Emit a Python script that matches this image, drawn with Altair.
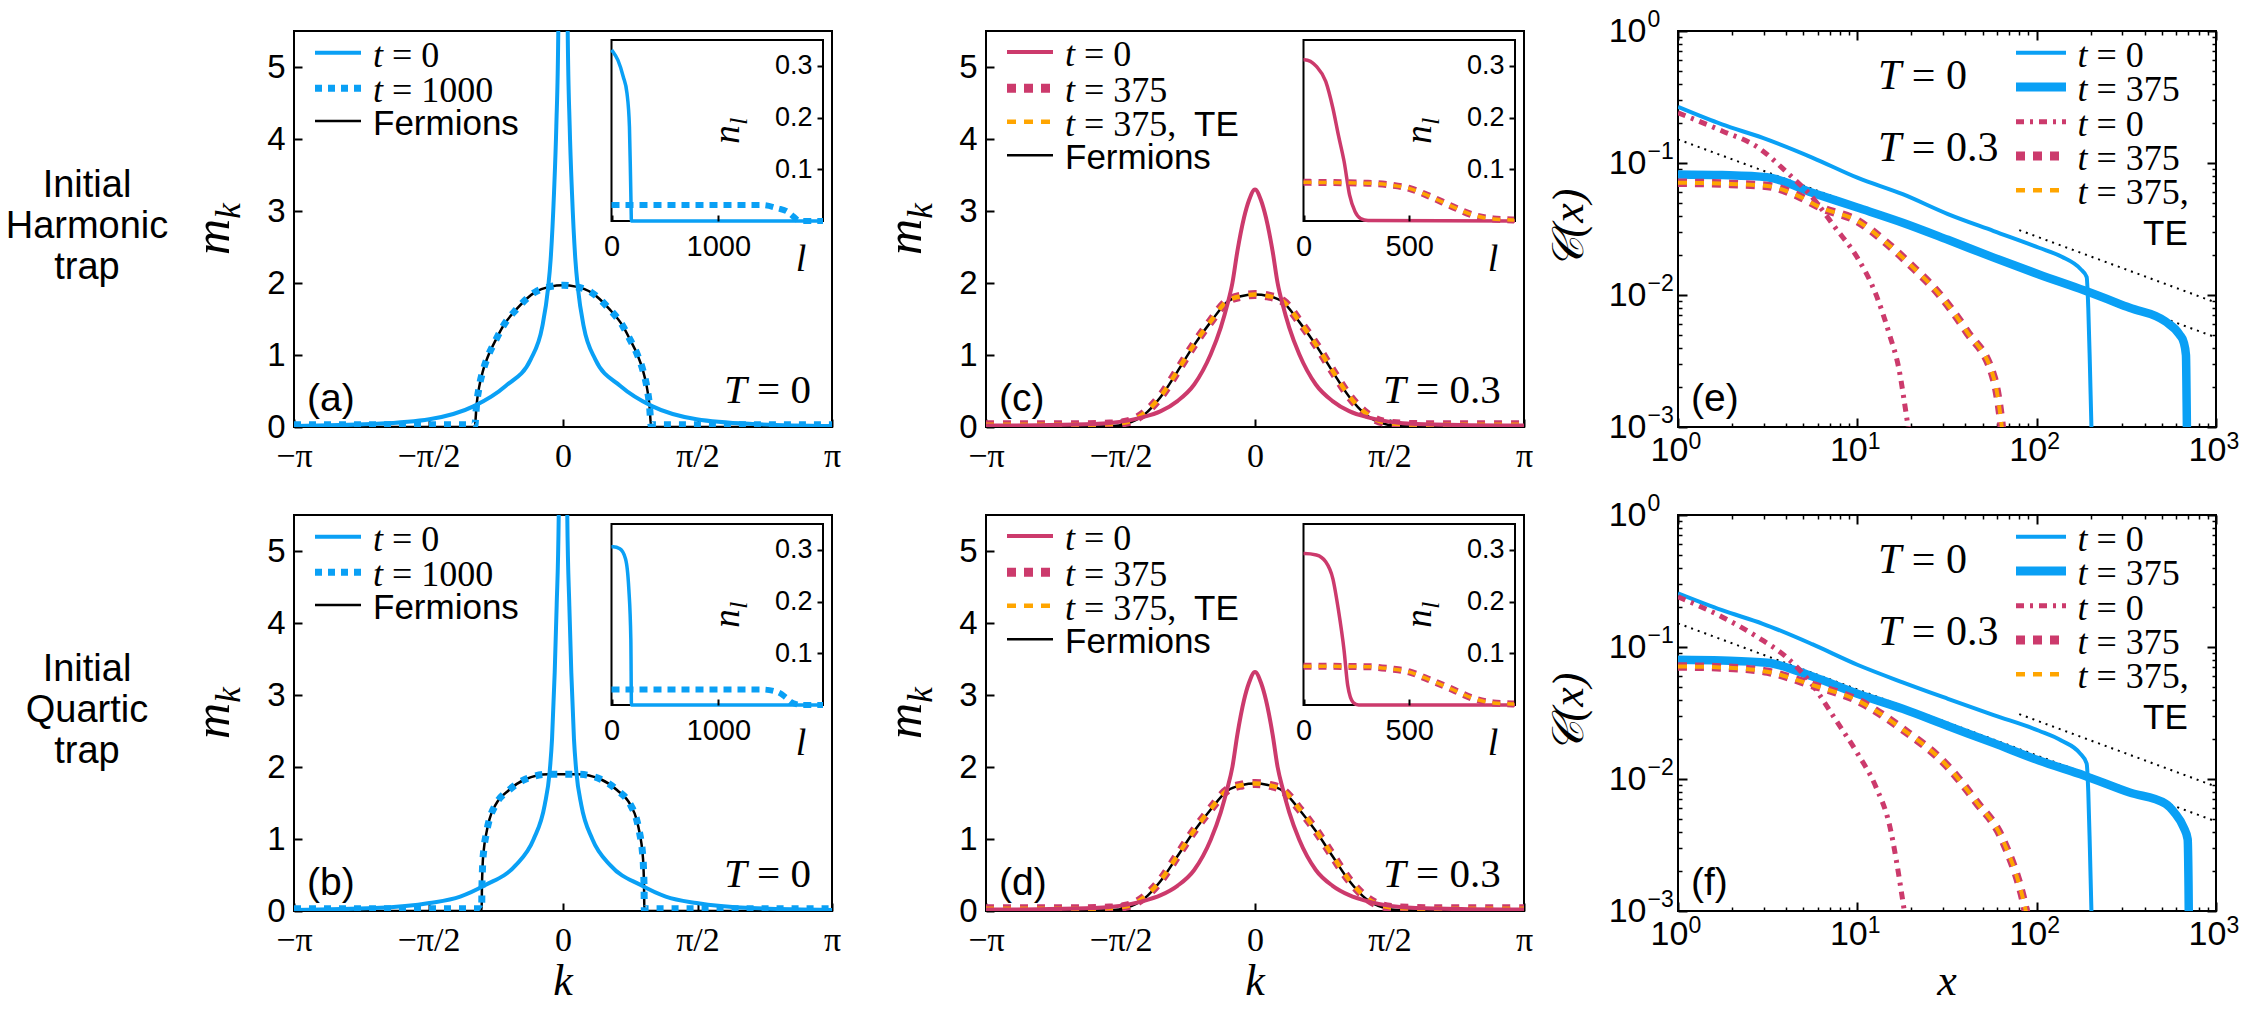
import math

import altair as alt
import pandas as pd

PI = math.pi

# ------------------------------------------------------------------
# Momentum distributions m_k, panels (a)-(d)
# ------------------------------------------------------------------
# (a) initial harmonic trap, T = 0
K_A_T0 = [-3.1416, -2.24, -1.56, -1.04, -0.67, -0.377, -0.241, -0.175, -0.144, -0.105, -0.078, -0.055, 0.0,
          0.055, 0.078, 0.105, 0.144, 0.175, 0.241, 0.377, 0.67, 1.04, 1.56, 2.24, 3.1416]
M_A_T0 = [0.014, 0.04, 0.107, 0.29, 0.57, 0.94, 1.40, 1.92, 2.33, 3.25, 4.18, 5.5, 30.0,
          5.5, 4.18, 3.25, 2.33, 1.92, 1.40, 0.94, 0.57, 0.29, 0.107, 0.04, 0.014]
K_A_T1000 = [-3.1416, -1.6, -1.05, -1.03, -1.01, -0.98, -0.93, -0.87, -0.78, -0.70, -0.54, -0.33, -0.15, 0.0,
             0.15, 0.33, 0.54, 0.70, 0.78, 0.87, 0.93, 0.98, 1.01, 1.03, 1.05, 1.6, 3.1416]
M_A_T1000 = [0.03, 0.03, 0.03, 0.02, 0.30, 0.55, 0.80, 1.00, 1.22, 1.40, 1.64, 1.87, 1.95, 1.97,
             1.95, 1.87, 1.64, 1.40, 1.22, 1.00, 0.80, 0.55, 0.30, 0.02, 0.03, 0.03, 0.03]
K_A_FERM = [-3.1416, -1.03, -1.01, -0.98, -0.93, -0.87, -0.78, -0.70, -0.54, -0.33, -0.15, 0.0,
            0.15, 0.33, 0.54, 0.70, 0.78, 0.87, 0.93, 0.98, 1.01, 1.03, 3.1416]
M_A_FERM = [0.0, 0.0, 0.30, 0.55, 0.80, 1.00, 1.22, 1.40, 1.64, 1.87, 1.95, 1.97,
            1.95, 1.87, 1.64, 1.40, 1.22, 1.00, 0.80, 0.55, 0.30, 0.0, 0.0]

# (b) initial quartic trap, T = 0
K_B_T0 = [-3.1416, -2.2, -1.56, -1.2, -0.907, -0.557, -0.342, -0.214, -0.156, -0.128, -0.097, -0.074, -0.05, 0.0,
          0.05, 0.074, 0.097, 0.128, 0.156, 0.214, 0.342, 0.557, 0.907, 1.2, 1.56, 2.2, 3.1416]
M_B_T0 = [0.015, 0.04, 0.11, 0.2, 0.36, 0.63, 1.0, 1.47, 1.93, 2.39, 3.31, 4.24, 5.49, 30.0,
          5.49, 4.24, 3.31, 2.39, 1.93, 1.47, 1.0, 0.63, 0.36, 0.2, 0.11, 0.04, 0.015]
K_B_T1000 = [-3.1416, -1.3, -0.96, -0.95, -0.947, -0.94, -0.925, -0.90, -0.86, -0.79, -0.63, -0.44, -0.17, 0.0,
             0.17, 0.44, 0.63, 0.79, 0.86, 0.90, 0.925, 0.94, 0.947, 0.95, 0.96, 1.3, 3.1416]
M_B_T1000 = [0.03, 0.03, 0.03, 0.02, 0.30, 0.60, 0.85, 1.05, 1.27, 1.47, 1.68, 1.83, 1.90, 1.90,
             1.90, 1.83, 1.68, 1.47, 1.27, 1.05, 0.85, 0.60, 0.30, 0.02, 0.03, 0.03, 0.03]
K_B_FERM = [-3.1416, -0.95, -0.947, -0.94, -0.925, -0.90, -0.86, -0.79, -0.63, -0.44, -0.17, 0.0,
            0.17, 0.44, 0.63, 0.79, 0.86, 0.90, 0.925, 0.94, 0.947, 0.95, 3.1416]
M_B_FERM = [0.0, 0.0, 0.30, 0.60, 0.85, 1.05, 1.27, 1.47, 1.68, 1.83, 1.90, 1.90,
            1.90, 1.83, 1.68, 1.47, 1.27, 1.05, 0.85, 0.60, 0.30, 0.0, 0.0]

# (c) initial harmonic trap, T = 0.3
K_C_T0 = [-3.1416, -2.5, -1.88, -1.33, -1.1, -0.906, -0.71, -0.517, -0.40, -0.323, -0.264, -0.206, -0.128, -0.07, 0.0,
          0.07, 0.128, 0.206, 0.264, 0.323, 0.40, 0.517, 0.71, 0.906, 1.1, 1.33, 1.88, 2.5, 3.1416]
M_C_T0 = [0.02, 0.025, 0.04, 0.13, 0.22, 0.36, 0.59, 1.01, 1.38, 1.70, 2.0, 2.44, 2.91, 3.15, 3.30,
          3.15, 2.91, 2.44, 2.0, 1.70, 1.38, 1.01, 0.59, 0.36, 0.22, 0.13, 0.04, 0.025, 0.02]
K_C_T375 = [-3.1416, -2.2, -1.7, -1.49, -1.295, -1.1, -0.906, -0.71, -0.517, -0.323, -0.15, 0.0,
            0.15, 0.323, 0.517, 0.71, 0.906, 1.1, 1.295, 1.49, 1.7, 2.2, 3.1416]
M_C_T375 = [0.03, 0.03, 0.04, 0.07, 0.19, 0.43, 0.78, 1.15, 1.47, 1.75, 1.82, 1.84,
            1.82, 1.75, 1.47, 1.15, 0.78, 0.43, 0.19, 0.07, 0.04, 0.03, 0.03]
M_C_FERM = [0.0, 0.0, 0.01, 0.05, 0.17, 0.42, 0.77, 1.14, 1.46, 1.74, 1.82, 1.84,
            1.82, 1.74, 1.46, 1.14, 0.77, 0.42, 0.17, 0.05, 0.01, 0.0, 0.0]

# (d) initial quartic trap, T = 0.3
M_D_T0 = [0.02, 0.025, 0.04, 0.13, 0.22, 0.35, 0.57, 0.99, 1.37, 1.70, 2.0, 2.45, 2.93, 3.17, 3.32,
          3.17, 2.93, 2.45, 2.0, 1.70, 1.37, 0.99, 0.57, 0.35, 0.22, 0.13, 0.04, 0.025, 0.02]
M_D_T375 = [0.03, 0.03, 0.04, 0.07, 0.19, 0.43, 0.77, 1.12, 1.42, 1.68, 1.75, 1.77,
            1.75, 1.68, 1.42, 1.12, 0.77, 0.43, 0.19, 0.07, 0.04, 0.03, 0.03]
M_D_FERM = [0.0, 0.0, 0.01, 0.05, 0.17, 0.42, 0.76, 1.11, 1.41, 1.67, 1.75, 1.77,
            1.75, 1.67, 1.41, 1.11, 0.76, 0.42, 0.17, 0.05, 0.01, 0.0, 0.0]

# ------------------------------------------------------------------
# Natural-orbital occupations n_l (insets)
# ------------------------------------------------------------------
L_A_T0 = [0, 15, 60, 110, 145, 168, 178, 184, 186, 1980]
N_A_T0 = [0.331, 0.327, 0.311, 0.279, 0.247, 0.182, 0.086, 0.02, 0.0, 0.0]
L_A_T1000 = [0, 1407, 1556, 1648, 1704, 1741, 1760, 1980]
N_A_T1000 = [0.031, 0.031, 0.0245, 0.018, 0.0084, 0.002, 0.0, 0.0]

L_B_T0 = [0, 16, 78, 131, 162, 181, 187, 1980]
N_B_T0 = [0.306, 0.306, 0.302, 0.283, 0.225, 0.127, 0.0, 0.0]
L_B_T1000 = [0, 1407, 1556, 1630, 1685, 1741, 1760, 1980]
N_B_T1000 = [0.030, 0.030, 0.025, 0.015, 0.005, 0.001, 0.0, 0.0]

L_C_T0 = [0, 5, 61, 105, 139, 165, 192, 218, 244, 270, 305, 1000]
N_C_T0 = [0.312, 0.312, 0.299, 0.27, 0.218, 0.166, 0.115, 0.05, 0.018, 0.005, 0.001, 0.0]
L_C_T375 = [0, 305, 409, 500, 601, 705, 801, 897, 996]
N_C_T375 = [0.0748, 0.073, 0.0697, 0.063, 0.047, 0.0277, 0.0116, 0.004, 0.002]

L_D_T0 = [0, 5, 61, 105, 139, 165, 192, 209, 235, 261, 1000]
N_D_T0 = [0.293, 0.293, 0.29, 0.277, 0.244, 0.184, 0.105, 0.038, 0.005, 0.0, 0.0]
L_D_T375 = [0, 305, 409, 500, 601, 705, 801, 897, 996]
N_D_T375 = [0.075, 0.074, 0.070, 0.064, 0.048, 0.030, 0.013, 0.004, 0.002]

# ------------------------------------------------------------------
# One-body correlations C(x), panels (e) and (f)
# ------------------------------------------------------------------
X_E_T0 = [1, 1.76, 2.97, 5.6, 10, 17.9, 32, 57.6, 103, 138, 175, 190, 194, 198, 202, 205]
C_E_T0 = [0.266, 0.196, 0.155, 0.11, 0.0774, 0.058, 0.041, 0.0305, 0.0228, 0.0195, 0.0158, 0.0137, 0.008,
          0.003, 0.001, 0.0005]
X_E_T375 = [1, 1.76, 3.14, 5.6, 10, 17.9, 32, 57.6, 103, 185, 330, 522, 627, 660, 680, 686, 692]
C_E_T375 = [0.082, 0.081, 0.078, 0.0596, 0.046, 0.0353, 0.0262, 0.0192, 0.0143, 0.0108, 0.0080, 0.0063,
            0.0050, 0.0044, 0.0035, 0.0015, 0.0005]
X_E_HOT0 = [1, 1.76, 2.8, 3.97, 5.63, 7.53, 10, 12.7, 15.1, 17.0, 19.1, 20]
C_E_HOT0 = [0.24, 0.175, 0.131, 0.087, 0.0546, 0.0324, 0.0192, 0.0101, 0.00503, 0.00282, 0.00105, 0.0007]
X_E_HOT375 = [1, 1.76, 3.15, 4.46, 6.3, 10, 14.1, 19.6, 28.5, 40.7, 57.6, 63, 65]
C_E_HOT375 = [0.071, 0.0698, 0.067, 0.058, 0.0458, 0.0364, 0.0257, 0.0171, 0.0102, 0.0053, 0.00236,
              0.00118, 0.0008]
X_E_TE = [1, 1.76, 3.15, 4.46, 6.3, 10, 14.1, 19.6, 28.5, 40.7, 57.6, 63, 65]
C_E_TE = [0.071, 0.0698, 0.067, 0.058, 0.0458, 0.0364, 0.0257, 0.0171, 0.0102, 0.0053, 0.00236,
          0.00118, 0.0008]

X_F_T0 = [1, 1.76, 2.97, 5.6, 10, 17.9, 32, 57.6, 103, 138, 174, 190, 194, 198, 202, 205]
C_F_T0 = [0.255, 0.19, 0.15, 0.105, 0.0734, 0.054, 0.0405, 0.0305, 0.0232, 0.0195, 0.0157, 0.0131, 0.008,
          0.003, 0.001, 0.0005]
X_F_T375 = [1, 1.76, 3.15, 5.63, 10, 17.9, 32, 57.6, 103, 185, 330, 522, 590, 660, 695, 703, 708]
C_F_T375 = [0.080, 0.079, 0.076, 0.0597, 0.0443, 0.034, 0.0252, 0.0187, 0.0138, 0.0106, 0.0079, 0.0065,
            0.0055, 0.0043, 0.0035, 0.0015, 0.0005]
X_F_HOT0 = [1, 1.76, 2.8, 3.97, 5.63, 7.53, 10, 12.7, 15.1, 18.0, 19]
C_F_HOT0 = [0.24, 0.169, 0.118, 0.085, 0.0514, 0.0284, 0.0157, 0.0087, 0.0045, 0.00115, 0.0007]
X_F_HOT375 = [1, 1.76, 3.15, 5.63, 10, 17.9, 32, 45.7, 65, 86.6, 90]
C_F_HOT375 = [0.0713, 0.070, 0.065, 0.0514, 0.0394, 0.0238, 0.0124, 0.0068, 0.0034, 0.00103, 0.0008]
X_F_TE = [1, 1.76, 3.15, 5.63, 10, 17.9, 32, 45.7, 65, 86.6, 90]
C_F_TE = [0.0713, 0.070, 0.065, 0.0514, 0.0394, 0.0238, 0.0124, 0.0068, 0.0034, 0.00103, 0.0008]

# power-law guides ~ x^(-1/2)
X_GUIDE_LOW = [1, 1000]
C_GUIDE_LOW = [0.151, 0.00477]
X_GUIDE_HIGH = [80, 1000]
C_GUIDE_HIGH = [0.031, 0.00876]

# ------------------------------------------------------------------
# layout and style
# ------------------------------------------------------------------
W, H = 538, 396
GAP_X, GAP_Y = 154, 88
INSET_X0, INSET_X1 = 317.5, 529.0
INSET_TOP, INSET_BOTTOM = 9.0, 190.0

SANS = "Liberation Sans"
SERIF = "Liberation Serif"
BLUE = "#0aa0f5"
RED = "#cc3a6c"
ORANGE = "#ffa500"
DASH_DOT = [8, 6, 3, 6]

ONE = pd.DataFrame({"z": [0]})


def inward(n):
    # negative tick length draws the ticks inside the frame
    return {"expr": str(-n)}


K_SCALE = alt.Scale(domain=[-PI, PI], nice=False, zero=False)
M_SCALE = alt.Scale(domain=[0, 5.5], nice=False, zero=False)
K_AXIS = alt.Axis(
    orient="bottom", values=[-PI, -PI / 2, 0, PI / 2, PI],
    labelExpr="datum.value < -2 ? '\u2212\u03c0' : datum.value < -0.5 ? '\u2212\u03c0/2' : "
              "datum.value < 0.5 ? '0' : datum.value < 2 ? '\u03c0/2' : '\u03c0'",
    labelFont=SERIF, labelFontSize=34, labelColor="black", labelPadding=20,
    labelFlush=False, labelOverlap=False, labelBound=False,
    tickSize=inward(8), tickWidth=2, tickColor="black",
    domain=False, grid=False, title=None)
M_AXIS = alt.Axis(
    orient="left", values=[0, 1, 2, 3, 4, 5],
    labelFont=SANS, labelFontSize=33, labelColor="black", labelPadding=17,
    labelFlush=False, labelOverlap=False,
    tickSize=inward(8), tickWidth=2, tickColor="black",
    domain=False, grid=False, title=None)

X_SCALE = alt.Scale(type="log", domain=[1, 1000], nice=False)
C_SCALE = alt.Scale(type="log", domain=[0.001, 1], nice=False)
X_MAJOR = [1, 10, 100, 1000]
X_MINOR = [2, 3, 4, 5, 6, 7, 8, 9, 20, 30, 40, 50, 60, 70, 80, 90, 200, 300, 400, 500, 600, 700, 800, 900]
C_MAJOR = [0.001, 0.01, 0.1, 1]
C_MINOR = [0.002, 0.003, 0.004, 0.005, 0.006, 0.007, 0.008, 0.009,
           0.02, 0.03, 0.04, 0.05, 0.06, 0.07, 0.08, 0.09,
           0.2, 0.3, 0.4, 0.5, 0.6, 0.7, 0.8, 0.9]
X_EXPONENTS = "datum.value < 5 ? '0' : datum.value < 50 ? '1' : datum.value < 500 ? '2' : '3'"
C_EXPONENTS = ("datum.value < 0.005 ? '\u22123' : datum.value < 0.05 ? '\u22122' : "
               "datum.value < 0.5 ? '\u22121' : '0'")


def plain_ticks(orient, values, size):
    return alt.Axis(orient=orient, values=values, tickSize=inward(size),
                    tickWidth=2 if size > 5 else 1.5, tickColor="black",
                    labels=False, domain=False, grid=False, title=None)


# the "10" of every decade label, with inward major ticks
X_AXIS_MAJOR = alt.Axis(orient="bottom", values=X_MAJOR, tickSize=inward(9), tickWidth=2, tickColor="black",
                        labelExpr="'10'", labelFont=SANS, labelFontSize=34, labelColor="black",
                        labelPadding=15, labelOffset=-9, labelFlush=False, labelOverlap=False,
                        domain=False, grid=False, title=None)
C_AXIS_MAJOR = alt.Axis(orient="left", values=C_MAJOR, tickSize=inward(9), tickWidth=2, tickColor="black",
                        labelExpr="'10'", labelFont=SANS, labelFontSize=34, labelColor="black",
                        labelPadding=41, labelFlush=False, labelOverlap=False,
                        domain=False, grid=False, title=None)
# the raised exponents of the decade labels
X_AXIS_EXP = alt.Axis(orient="bottom", values=X_MAJOR, ticks=False, labelExpr=X_EXPONENTS,
                      labelFont=SANS, labelFontSize=23, labelColor="black", labelAlign="left",
                      labelPadding=3, labelOffset=10, labelFlush=False, labelOverlap=False,
                      domain=False, grid=False, title=None)
C_AXIS_EXP = alt.Axis(orient="left", values=C_MAJOR, ticks=False, labelExpr=C_EXPONENTS,
                      labelFont=SANS, labelFontSize=23, labelColor="black", labelAlign="left",
                      labelPadding=31, labelOffset=-12, labelFlush=False, labelOverlap=False,
                      domain=False, grid=False, title=None)


# ------------------------------------------------------------------
# drawing helpers
# ------------------------------------------------------------------
def txt(x, y, s, size, font=SERIF, style="normal", align="left", baseline="middle", angle=0,
        line_height=None):
    props = dict(text=s, font=font, fontSize=size, fontStyle=style, align=align,
                 baseline=baseline, color="black")
    if angle:
        props["angle"] = angle
    if line_height:
        props["lineHeight"] = line_height
    return alt.Chart(ONE).mark_text(**props).encode(x=alt.value(x), y=alt.value(y))


def seg(x0, x1, y, color, width, dash=None):
    props = dict(color=color, strokeWidth=width)
    if dash:
        props["strokeDash"] = dash
    return alt.Chart(ONE).mark_rule(**props).encode(x=alt.value(x0), x2=alt.value(x1), y=alt.value(y))


ITALIC_ADVANCE = {"t": 0.278, "T": 0.556}


def sym_eq(x, y, sym, rest, size, baseline="middle"):
    """Italic symbol followed by an upright '= value' part."""
    shift = (ITALIC_ADVANCE[sym] + 0.25) * size
    return [txt(x, y, sym, size, style="italic", baseline=baseline),
            txt(x + shift, y, rest, size, baseline=baseline)]


def legend(x0, x1, xt, rows, size=36, sans_size=35):
    out = []
    for y, color, width, dash, label in rows:
        out.append(seg(x0, x1, y, color, width, dash))
        ty = y + 3  # text sits a little below its sample line
        if isinstance(label, str):
            out.append(txt(xt, ty, label, sans_size, font=SANS))
        else:
            out += sym_eq(xt, ty, label[0], label[1], size)
    return out


def kcurve(k, m, color, width, dash=None):
    props = dict(color=color, strokeWidth=width, clip=True, interpolate="monotone")
    if dash:
        props["strokeDash"] = dash
    return alt.Chart(pd.DataFrame({"k": k, "m": m})).mark_line(**props).encode(
        x=alt.X("k:Q", scale=K_SCALE, axis=K_AXIS),
        y=alt.Y("m:Q", scale=M_SCALE, axis=M_AXIS),
    )


def ccurve(x, c, color, width, dash=None):
    props = dict(color=color, strokeWidth=width, clip=True, interpolate="monotone")
    if dash:
        props["strokeDash"] = dash
    return alt.Chart(pd.DataFrame({"x": x, "c": c})).mark_line(**props).encode(
        x=alt.X("x:Q", scale=X_SCALE, axis=X_AXIS_MAJOR),
        y=alt.Y("c:Q", scale=C_SCALE, axis=C_AXIS_MAJOR),
    )


def inset(l_max, l_ticks, curves):
    xs = alt.Scale(domain=[0, l_max], range=[INSET_X0, INSET_X1], nice=False, zero=False)
    ys = alt.Scale(domain=[0, 0.35], range=[INSET_BOTTOM, INSET_TOP], nice=False, zero=False)
    xa = alt.Axis(orient="bottom", offset=-(H - INSET_BOTTOM), values=l_ticks, format="d",
                  labelFont=SANS, labelFontSize=29, labelColor="black", labelPadding=17,
                  labelFlush=False, labelOverlap=False,
                  tickSize=inward(6), tickWidth=2, tickColor="black",
                  domain=False, grid=False, title=None, zindex=2)
    ya = alt.Axis(orient="left", offset=-INSET_X1, values=[0.1, 0.2, 0.3],
                  labelFont=SANS, labelFontSize=27, labelColor="black", labelPadding=5,
                  labelFlush=False, labelOverlap=False,
                  tickSize=6, tickWidth=2, tickColor="black",
                  domain=False, grid=False, title=None, zindex=2)
    frame = alt.Chart(pd.DataFrame({"l0": [0], "l1": [l_max], "n0": [0.0], "n1": [0.35]})).mark_rect(
        fill="white", stroke="black", strokeWidth=2
    ).encode(x=alt.X("l0:Q", scale=xs, axis=xa), x2="l1:Q",
             y=alt.Y("n0:Q", scale=ys, axis=ya), y2="n1:Q")
    layers = [frame]
    for l, n, color, width, dash in curves:
        props = dict(color=color, strokeWidth=width, interpolate="monotone")
        if dash:
            props["strokeDash"] = dash
        layers.append(
            alt.Chart(pd.DataFrame({"l": l, "n": n})).mark_line(**props).encode(
                x=alt.X("l:Q", scale=xs, axis=xa),
                y=alt.Y("n:Q", scale=ys, axis=ya),
            )
        )
    # axis titles of the inset: n_l (rotated) and l
    yc = (INSET_TOP + INSET_BOTTOM) / 2
    layers += [txt(434, yc + 4, "n", 37, style="italic", align="center", angle=270),
               txt(445, yc - 9, "l", 26, style="italic", align="center", angle=270),
               txt(507, 229, "l", 38, style="italic", align="center")]
    return alt.layer(*layers)


def m_title():
    return [txt(-80, H / 2 + 8, "m", 50, style="italic", align="center", angle=270),
            txt(-65.5, H / 2 - 18, "k", 35, style="italic", align="center", angle=270)]


def tag(s):
    return txt(13, 380, s, 39, font=SANS, baseline="alphabetic")


def temp_label(x, value):
    return sym_eq(x, 372, "T", value, 41, baseline="alphabetic")


def row_label(lines):
    # first line sits at the anchor, so shift up one line to centre the block
    return txt(-207, 196 - 41, lines, 38, font=SANS, align="center", line_height=41)


def momentum_panel(curves, ins, extras):
    main = alt.layer(*curves, *extras)
    return alt.layer(main, ins).resolve_scale(x="independent", y="independent").properties(width=W, height=H)


LOG_DUMMY = pd.DataFrame({"x": [10.0], "c": [0.1]})


def tick_layer(xaxis, yaxis):
    return alt.Chart(LOG_DUMMY).mark_point(opacity=0).encode(
        x=alt.X("x:Q", scale=X_SCALE, axis=xaxis),
        y=alt.Y("c:Q", scale=C_SCALE, axis=yaxis),
    )


def correlation_panel(series, letter, x_title=False):
    t0, t375, hot0, hot375, te = series
    curves = [
        ccurve(X_GUIDE_LOW, C_GUIDE_LOW, "black", 2, [2, 5]),
        ccurve(X_GUIDE_HIGH, C_GUIDE_HIGH, "black", 2, [2, 5]),
        ccurve(t375[0], t375[1], BLUE, 8.5),
        ccurve(t0[0], t0[1], BLUE, 4),
        ccurve(hot0[0], hot0[1], RED, 5, DASH_DOT),
        ccurve(hot375[0], hot375[1], RED, 8.5, [9, 8]),
        ccurve(te[0], te[1], ORANGE, 4, [9, 8]),
    ]
    extras = legend(338, 388, 399.5, [
        (21.7, BLUE, 4, None, ("t", "= 0")),
        (56.0, BLUE, 9, None, ("t", "= 375")),
        (90.7, RED, 5, DASH_DOT, ("t", "= 0")),
        (125.0, RED, 9, [9, 8], ("t", "= 375")),
        (159.3, ORANGE, 4.5, [9, 8], ("t", "= 375,")),
    ])
    extras.append(txt(465, 203, "TE", 35, font=SANS))
    extras += sym_eq(200, 45, "T", "= 0", 42)
    extras += sym_eq(200, 117, "T", "= 0.3", 42)
    extras.append(tag(letter))
    extras.append(txt(-108, H / 2, "\U0001d49e(x)", 44, style="italic", align="center", angle=270))
    if x_title:
        extras.append(txt(W / 2, 480, "x", 44, style="italic", align="center", baseline="alphabetic"))
    main = alt.layer(*curves, *extras)
    ticks = [
        tick_layer(X_AXIS_EXP, C_AXIS_EXP),
        tick_layer(plain_ticks("bottom", X_MINOR, 4), plain_ticks("left", C_MINOR, 4)),
        tick_layer(plain_ticks("top", X_MAJOR, 9), plain_ticks("right", C_MAJOR, 9)),
        tick_layer(plain_ticks("top", X_MINOR, 4), plain_ticks("right", C_MINOR, 4)),
    ]
    return alt.layer(main, *ticks).resolve_axis(x="independent", y="independent").properties(width=W, height=H)


# ------------------------------------------------------------------
# panels
# ------------------------------------------------------------------
corner = alt.Chart(ONE).mark_rule(strokeOpacity=0, strokeWidth=0).encode(
    x=alt.value(-292.3), x2=alt.value(-292.3), y=alt.value(-30), y2=alt.value(-30))

blue_legend = legend(21, 67, 79, [
    (21.7, BLUE, 4, None, ("t", "= 0")),
    (57.3, BLUE, 7, [7, 6], ("t", "= 1000")),
    (90.0, "black", 2.5, None, "Fermions"),
])
red_legend = legend(21, 67, 79, [
    (21.0, RED, 4, None, ("t", "= 0")),
    (57.3, RED, 9, [9, 8], ("t", "= 375")),
    (90.7, ORANGE, 4.5, [9, 8], ("t", "= 375,")),
    (124.3, "black", 2.5, None, "Fermions"),
]) + [txt(208, 93.7, "TE", 35, font=SANS)]

k_title = txt(W / 2, 480, "k", 44, style="italic", align="center", baseline="alphabetic")

panel_a = momentum_panel(
    [kcurve(K_A_FERM, M_A_FERM, "black", 2.5),
     kcurve(K_A_T1000, M_A_T1000, BLUE, 7, [7, 8]),
     kcurve(K_A_T0, M_A_T0, BLUE, 4)],
    inset(1980, [0, 1000], [(L_A_T0, N_A_T0, BLUE, 3.5, None),
                            (L_A_T1000, N_A_T1000, BLUE, 6, [8, 6])]),
    [corner, *blue_legend, tag("(a)"), *temp_label(430, "= 0"), *m_title(),
     row_label(["Initial", "Harmonic", "trap"])],
)

panel_b = momentum_panel(
    [kcurve(K_B_FERM, M_B_FERM, "black", 2.5),
     kcurve(K_B_T1000, M_B_T1000, BLUE, 7, [7, 8]),
     kcurve(K_B_T0, M_B_T0, BLUE, 4)],
    inset(1980, [0, 1000], [(L_B_T0, N_B_T0, BLUE, 3.5, None),
                            (L_B_T1000, N_B_T1000, BLUE, 6, [8, 6])]),
    [*blue_legend, tag("(b)"), *temp_label(430, "= 0"), *m_title(),
     row_label(["Initial", "Quartic", "trap"]), k_title],
)

panel_c = momentum_panel(
    [kcurve(K_C_T375, M_C_FERM, "black", 2.5),
     kcurve(K_C_T375, M_C_T375, RED, 9, [8, 9]),
     kcurve(K_C_T375, M_C_T375, ORANGE, 4.5, [8, 9]),
     kcurve(K_C_T0, M_C_T0, RED, 4)],
    inset(1000, [0, 500], [(L_C_T0, N_C_T0, RED, 3.5, None),
                           (L_C_T375, N_C_T375, RED, 7, [8, 7]),
                           (L_C_T375, N_C_T375, ORANGE, 3.5, [8, 7])]),
    [*red_legend, tag("(c)"), *temp_label(397, "= 0.3"), *m_title()],
)

panel_d = momentum_panel(
    [kcurve(K_C_T375, M_D_FERM, "black", 2.5),
     kcurve(K_C_T375, M_D_T375, RED, 9, [8, 9]),
     kcurve(K_C_T375, M_D_T375, ORANGE, 4.5, [8, 9]),
     kcurve(K_C_T0, M_D_T0, RED, 4)],
    inset(1000, [0, 500], [(L_D_T0, N_D_T0, RED, 3.5, None),
                           (L_D_T375, N_D_T375, RED, 7, [8, 7]),
                           (L_D_T375, N_D_T375, ORANGE, 3.5, [8, 7])]),
    [*red_legend, tag("(d)"), *temp_label(397, "= 0.3"), *m_title(), k_title],
)

panel_e = correlation_panel(
    [(X_E_T0, C_E_T0), (X_E_T375, C_E_T375), (X_E_HOT0, C_E_HOT0),
     (X_E_HOT375, C_E_HOT375), (X_E_TE, C_E_TE)], "(e)")
panel_f = correlation_panel(
    [(X_F_T0, C_F_T0), (X_F_T375, C_F_T375), (X_F_HOT0, C_F_HOT0),
     (X_F_HOT375, C_F_HOT375), (X_F_TE, C_F_TE)], "(f)", x_title=True)

chart = alt.concat(
    panel_a, panel_c, panel_e, panel_b, panel_d, panel_f,
    columns=3, spacing={"row": GAP_Y, "column": GAP_X}, bounds="flush",
).properties(padding=0, background="white").configure_view(stroke="black", strokeWidth=2)

chart.save("out.html", embed_options={"renderer": "svg", "actions": False})
